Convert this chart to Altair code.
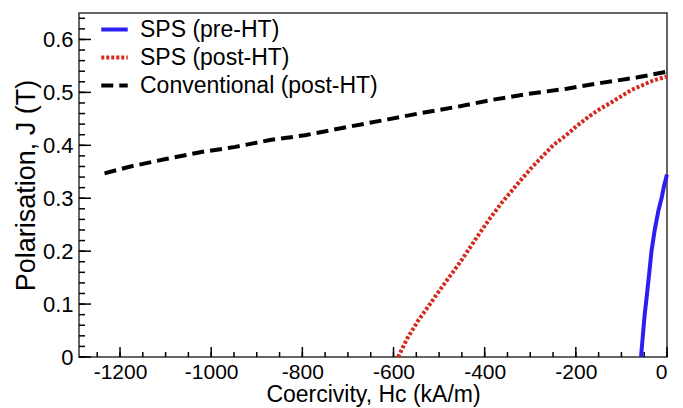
import altair as alt
import pandas as pd

# --- data ---
pre_hc = [-57, -53, -49, -45, -40, -34, -27, -19, -12, -6, 0]
pre_j = [0.0, 0.04, 0.08, 0.11, 0.15, 0.20, 0.24, 0.276, 0.30, 0.325, 0.345]

post_hc = [-590, -570, -545, -520, -498, -470, -450, -411, -390, -364, -325, -300,
           -278, -250, -220, -200, -172, -150, -124, -100, -77, -50, -29, 0]
post_j = [0.0, 0.035, 0.07, 0.10, 0.127, 0.16, 0.184, 0.234, 0.26, 0.29, 0.33, 0.355,
          0.375, 0.40, 0.42, 0.435, 0.454, 0.467, 0.48, 0.493, 0.505, 0.515, 0.523, 0.53]

conv_hc = [-1234, -1177, -1100, -1024, -947, -871, -794, -699, -612, -545,
           -459, -383, -306, -220, -144, -67, 0]
conv_j = [0.347, 0.36, 0.374, 0.387, 0.397, 0.41, 0.419, 0.435, 0.449, 0.46,
          0.473, 0.486, 0.497, 0.507, 0.518, 0.528, 0.539]

series_names = ["SPS (pre-HT)", "SPS (post-HT)", "Conventional (post-HT)"]
series_colors = ["#2b1ff2", "#d42a1e", "#000000"]
series_dash = [[1, 0], [3, 2], [12, 6]]

x_label_ticks = [-1200, -1000, -800, -600, -400, -200, 0]
y_label_ticks = [0, 0.1, 0.2, 0.3, 0.4, 0.5, 0.6]
x_minor = list(range(-1250, 1, 50))
x_major = x_label_ticks
y_minor = [round(v * 0.02, 2) for v in range(0, 33)]
y_major = y_label_ticks

rows = []
for name, hs, js in zip(series_names, [pre_hc, post_hc, conv_hc], [pre_j, post_j, conv_j]):
    for i, (h, j) in enumerate(zip(hs, js)):
        rows.append({"series": name, "hc": h, "j": j, "order": i})
df = pd.DataFrame(rows)

W, H = 588, 344
FONT = "Liberation Sans"
XMIN, XMAX, YMIN, YMAX = -1290, 0, 0, 0.65

xscale = alt.Scale(domain=[XMIN, XMAX], nice=False, zero=False)
yscale = alt.Scale(domain=[YMIN, YMAX], nice=False)

leg = alt.Legend(title=None, orient="none", legendX=20, legendY=1,
                 labelFontSize=23, labelFont=FONT, labelColor="#000", labelLimit=400,
                 symbolType="stroke", symbolSize=700, symbolStrokeWidth=4,
                 rowPadding=0, labelOffset=10)

lines = alt.Chart(df).mark_line(strokeWidth=4, strokeCap="butt").encode(
    x=alt.X("hc:Q", scale=xscale,
            axis=alt.Axis(values=x_label_ticks, ticks=False, domain=False, grid=False,
                          labelExpr="toString(datum.value)",
                          labelFontSize=21, labelPadding=4, labelFont=FONT, labelColor="#000",
                          title="Coercivity, Hc (kA/m)", titleFontSize=23, titleFont=FONT,
                          titleFontWeight="normal", titleColor="#000", titlePadding=1)),
    y=alt.Y("j:Q", scale=yscale,
            axis=alt.Axis(values=y_label_ticks, ticks=False, domain=False, grid=False, format=".1~f",
                          labelFontSize=22, labelPadding=6, labelFont=FONT, labelColor="#000",
                          title="Polarisation, J (T)", titleFontSize=27, titleFont=FONT,
                          titleFontWeight="normal", titleColor="#000", titlePadding=2)),
    color=alt.Color("series:N", scale=alt.Scale(domain=series_names, range=series_colors), legend=leg),
    strokeDash=alt.StrokeDash("series:N", scale=alt.Scale(domain=series_names, range=series_dash), legend=leg),
    order="order:Q",
)

xmin_df = pd.DataFrame({"v": x_minor})
xmaj_df = pd.DataFrame({"v": x_major})
ymin_df = pd.DataFrame({"v": y_minor})
ymaj_df = pd.DataFrame({"v": y_major})

# inside tick marks (lengths in data units of the other axis)
xt_minor = alt.Chart(xmin_df).mark_rule(color="#000", strokeWidth=1.5).encode(
    x=alt.X("v:Q", scale=xscale), y=alt.datum(0), y2=alt.datum(5 / H * YMAX))
xt_major = alt.Chart(xmaj_df).mark_rule(color="#000", strokeWidth=1.5).encode(
    x=alt.X("v:Q", scale=xscale), y=alt.datum(0), y2=alt.datum(10 / H * YMAX))
yt_minor = alt.Chart(ymin_df).mark_rule(color="#000", strokeWidth=1.5).encode(
    y=alt.Y("v:Q", scale=yscale), x=alt.datum(XMIN), x2=alt.datum(XMIN + 6 / W * (XMAX - XMIN)))
yt_major = alt.Chart(ymaj_df).mark_rule(color="#000", strokeWidth=1.5).encode(
    y=alt.Y("v:Q", scale=yscale), x=alt.datum(XMIN), x2=alt.datum(XMIN + 12 / W * (XMAX - XMIN)))

chart = alt.layer(lines, xt_minor, xt_major, yt_minor, yt_major).properties(
    width=W, height=H,
    autosize=alt.AutoSizeParams(type="none"),
    padding={"left": 71, "top": 5, "right": 8, "bottom": 60},
).configure_view(stroke="#333", strokeWidth=1.5)

chart.save("out.html", embed_options={"renderer": "svg", "actions": False})
